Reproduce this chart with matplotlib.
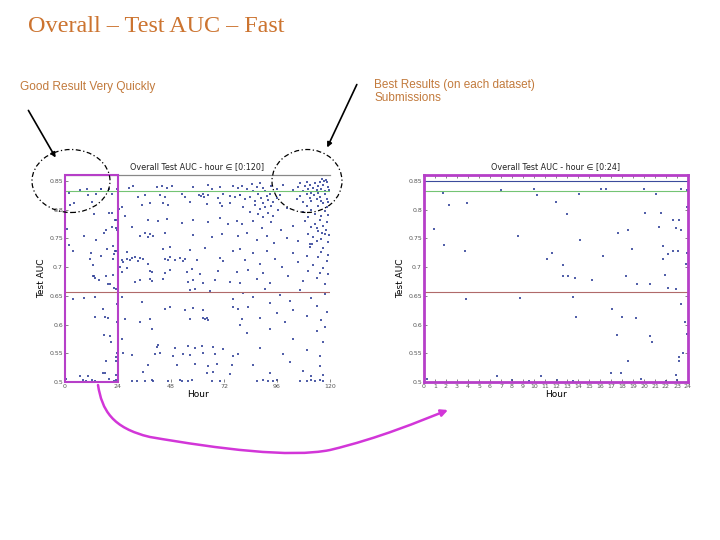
import matplotlib
matplotlib.use("Agg")
import matplotlib.pyplot as plt
from matplotlib.patches import Ellipse, Rectangle, FancyArrowPatch
from matplotlib.path import Path

# ---- data (hour, test AUC) ----
# first 24 hours (right panel; also the boxed part of the left panel)
pts_day1 = [
    (0.3, .505), (0.9, .766), (1.7, .829), (1.8, .739), (2.3, .809), (3.9, .811),
    (3.7, .728), (3.8, .645), (7.0, .834), (6.6, .511), (8.5, .755), (8.7, .646),
    (8.0, .504), (10.0, .836), (10.3, .825), (9.5, .502), (10.6, .510), (11.2, .714),
    (11.6, .724), (12.0, .814), (12.1, .504), (12.6, .704), (12.6, .685), (13.0, .792),
    (13.1, .684), (13.5, .648), (13.7, .682), (13.8, .614), (14.1, .827), (14.2, .747),
    (13.5, .502), (15.3, .678), (16.1, .836), (16.5, .837), (16.3, .720), (17.1, .627),
    (17.0, .516), (17.5, .582), (17.6, .759), (17.9, .516), (18.0, .614), (18.4, .685),
    (18.5, .764), (18.5, .537), (18.9, .731), (19.3, .612), (19.4, .671), (19.7, .506),
    (20.0, .836), (20.1, .794), (20.5, .671), (20.5, .581), (20.7, .569), (21.1, .827),
    (21.5, .794), (21.4, .770), (21.7, .737), (21.7, .715), (21.9, .687), (22.0, .502),
    (22.2, .723), (22.2, .664), (22.6, .783), (22.6, .728), (22.9, .662), (22.9, .768),
    (22.9, .512), (23.1, .729), (23.0, .504), (23.2, .783), (23.4, .836), (23.4, .764),
    (23.4, .636), (23.2, .544), (23.2, .537), (23.5, .550), (23.7, .605), (23.9, .725),
    (23.8, .706), (23.9, .804), (23.9, .583), (23.9, .834),
]

pts_24_40 = [
    (25.7, .805), (33.2, .822), (36.2, .825), (38.5, .811), (34.7, .808), (37.7, .782),
    (30.2, .770), (34.0, .755), (37.7, .753), (28.0, .727), (25.7, .712), (26.4, .709),
    (28.0, .715), (30.2, .716), (31.5, .717), (34.0, .716), (35.5, .714), (37.7, .706),
    (39.2, .692), (38.5, .680), (25.7, .692), (28.0, .698), (34.0, .677), (31.7, .674),
    (27.2, .610), (34.0, .604), (38.5, .610), (39.2, .593), (26.4, .550), (30.2, .547),
    (37.7, .529), (35.5, .518), (30.2, .501), (32.5, .502), (36.2, .501), (39.2, .503),
    (25.7, .648), (29.0, .838), (31.0, .842), (27.0, .790), (36.0, .760), (24.8, .700),
    (29.5, .712), (33.0, .711), (26.0, .575), (35.0, .640), (24.5, .802),
]

pts_40_80 = [
    (41.5, .840), (43.8, .842), (46.0, .838), (48.3, .841), (58.1, .839), (64.9, .843),
    (66.4, .837), (70.2, .840), (76.3, .842), (78.5, .838),
    (43.0, .825), (45.3, .823), (52.8, .827), (54.3, .822), (60.5, .826), (61.5, .824),
    (62.6, .828), (63.0, .822), (64.9, .825), (69.4, .821), (71.7, .827), (74.7, .824),
    (77.0, .822), (79.3, .826),
    (44.5, .811), (46.8, .808), (56.6, .813), (64.2, .810), (70.2, .812), (70.9, .807),
    (74.7, .811),
    (42.3, .780), (46.0, .784), (52.8, .777), (58.1, .782), (64.9, .779), (70.2, .785),
    (74.0, .776), (77.8, .781),
    (38.5, .757), (40.0, .754), (45.3, .759), (58.1, .756), (66.4, .752), (70.9, .758),
    (78.5, .755),
    (44.5, .732), (47.5, .735), (56.6, .730), (63.4, .733), (76.3, .729),
    (45.3, .715), (46.8, .712), (47.5, .718), (49.8, .713), (52.1, .716), (53.6, .711),
    (54.3, .714), (59.6, .712), (70.2, .716), (71.7, .710),
    (38.5, .693), (45.3, .690), (47.5, .695), (55.1, .692), (57.4, .697), (61.1, .689),
    (69.4, .694), (77.8, .691),
    (39.2, .676), (44.5, .679), (55.9, .674), (58.1, .677), (62.6, .672), (67.9, .678),
    (74.7, .675), (79.3, .673),
    (56.6, .660), (58.9, .662), (65.7, .659), (76.3, .645),
    (45.3, .628), (47.5, .631), (54.3, .626), (58.1, .629), (62.6, .625), (76.3, .630),
    (78.5, .627),
    (56.6, .610), (62.6, .612), (63.4, .609), (64.2, .611), (64.9, .608), (80.0, .610),
    (79.3, .600),
    (41.5, .561), (42.3, .564), (49.8, .560), (55.9, .562), (58.9, .559), (61.9, .563),
    (67.2, .561), (71.7, .558),
    (40.8, .548), (43.0, .550), (49.0, .546), (53.6, .549), (56.6, .547), (62.6, .551),
    (67.9, .548), (76.3, .545), (78.5, .549),
    (50.6, .530), (58.9, .532), (64.9, .528), (68.7, .531), (75.5, .529),
    (64.2, .515), (67.2, .517), (74.7, .514),
    (40.0, .502), (46.8, .501), (52.1, .503), (52.8, .501), (55.9, .502), (57.4, .504),
    (66.4, .502), (70.2, .501),
]

pts_80_120 = [
    (80.0, .842), (82.3, .836), (84.5, .845), (85.3, .833), (86.8, .840), (88.3, .846),
    (89.8, .838), (90.5, .833), (93.5, .841), (95.8, .836), (98.9, .843), (103.4, .834),
    (105.6, .839), (106.4, .846), (107.9, .832), (108.6, .841), (109.4, .848), (110.2, .836),
    (110.9, .843), (111.6, .830), (112.4, .838), (113.1, .846), (113.9, .834), (114.6, .842),
    (115.4, .849), (116.1, .837), (116.9, .844), (117.7, .832), (118.5, .848), (119.0, .840),
    (119.5, .835), (118.0, .852), (117.2, .850), (116.4, .853),
    (79.3, .826), (81.5, .818), (83.8, .823), (86.0, .815), (87.5, .828), (88.8, .820),
    (89.8, .812), (91.3, .824), (92.0, .817), (92.8, .828), (94.3, .813), (95.8, .821),
    (97.4, .826), (104.9, .818), (106.4, .824), (107.9, .813), (109.4, .828), (110.9, .820),
    (111.6, .815), (112.9, .826), (113.9, .818), (115.4, .823), (116.9, .812), (117.7, .827),
    (118.5, .819), (119.2, .814), (114.6, .829), (116.0, .816),
    (80.8, .805), (83.8, .797), (86.0, .808), (87.5, .792), (88.3, .801), (89.8, .788),
    (90.5, .804), (91.8, .795), (93.5, .806), (94.3, .790), (96.6, .799), (100.4, .803),
    (107.9, .796), (109.4, .806), (110.2, .788), (111.6, .800), (113.1, .793), (114.6, .807),
    (116.1, .789), (117.7, .798), (118.5, .804), (119.2, .791),
    (80.0, .775), (82.3, .760), (85.3, .781), (86.8, .748), (89.0, .768), (91.3, .755),
    (93.5, .778), (94.8, .742), (97.9, .764), (100.4, .751), (103.4, .772), (105.6, .746),
    (108.6, .780), (110.2, .758), (110.9, .741), (111.6, .770), (112.4, .752), (113.1, .776),
    (113.9, .745), (114.6, .763), (115.4, .782), (116.1, .749), (116.9, .771), (117.7, .757),
    (118.5, .779), (119.2, .744), (118.0, .765), (116.5, .760), (114.0, .768), (112.0, .740),
    (119.5, .756),
    (79.3, .732), (81.5, .712), (83.0, .695), (85.3, .724), (86.8, .680), (88.3, .705),
    (89.8, .690), (91.3, .728), (92.8, .672), (95.0, .715), (98.2, .700), (101.2, .685),
    (103.4, .725), (105.6, .709), (107.9, .676), (109.4, .720), (110.2, .694), (110.9, .735),
    (112.4, .703), (113.9, .682), (114.6, .717), (115.4, .690), (116.1, .726), (116.9, .699),
    (117.7, .671), (118.5, .711), (119.2, .688), (117.0, .734), (119.0, .722),
    (80.8, .655), (83.0, .630), (85.3, .648), (88.3, .612), (90.5, .662), (92.8, .638),
    (95.8, .620), (97.4, .652), (99.6, .605), (101.9, .641), (103.4, .626), (106.4, .660),
    (109.4, .615), (111.6, .647), (113.9, .632), (116.1, .608), (117.7, .654), (118.5, .622),
    (82.3, .585), (88.3, .560), (92.8, .592), (98.9, .548), (103.4, .575), (109.4, .556),
    (113.9, .588), (115.4, .545), (116.9, .570), (117.7, .595),
    (85.3, .530), (92.8, .515), (101.9, .535), (107.9, .520), (111.6, .510), (115.4, .528),
    (116.9, .512),
    (86.8, .502), (89.8, .503), (92.0, .501), (94.3, .502), (95.8, .504), (106.4, .502),
    (109.4, .501), (111.6, .503), (113.1, .502), (115.4, .504), (116.9, .501),
]

# reference lines
best_auc = 0.85
green_auc = 0.833
red_auc = 0.657

y_ticks = [0.5, 0.55, 0.6, 0.65, 0.7, 0.75, 0.8, 0.85]
y_tick_labels = ["0.5", "0.55", "0.6", "0.65", "0.7", "0.75", "0.8", "0.85"]
x_ticks_all = [0, 24, 48, 72, 96, 120]
x_ticks_day = list(range(25))

DOT = "#34449a"
MAGENTA = "#b63fc8"
ORANGE = "#cc7430"
GREEN = "#74c474"
RED = "#b06a6a"
W, H = 720, 540


def fx(px):
    return px / W


def fy(py):
    return 1 - py / H


def style_axes(ax, xticks, title):
    ax.set_ylim(0.5, 0.8606)
    ax.set_yticks(y_ticks)
    ax.set_yticklabels(y_tick_labels)
    ax.set_xticks(xticks)
    ax.tick_params(direction="in", length=2.5, width=0.5, labelsize=4.5,
                   colors="#555555", pad=1.5)
    ax.set_title(title, fontsize=5.8, pad=4, color="#222222")
    ax.set_xlabel("Hour", fontsize=6.5, labelpad=1)
    ax.set_ylabel("Test AUC", fontsize=6.5, labelpad=2)


fig = plt.figure(figsize=(7.2, 5.4), dpi=100)

all_pts = pts_day1 + pts_24_40 + pts_40_80 + pts_80_120
hrs = [p[0] for p in all_pts]
aucs = [p[1] for p in all_pts]

# left panel: all five days
ax1 = fig.add_axes([fx(65), fy(382), 265 / W, 207 / H])
ax1.scatter(hrs, aucs, s=0.9, c=DOT, marker="s", linewidths=0, alpha=0.85)
ax1.axhline(green_auc, color=GREEN, lw=0.8)
ax1.axhline(red_auc, color=RED, lw=0.8)
ax1.set_xlim(0, 120)
style_axes(ax1, x_ticks_all, "Overall Test AUC - hour \u2208 [0:120]")
for s in ["left", "right", "bottom"]:
    ax1.spines[s].set_visible(False)
ax1.spines["top"].set_color("#888888")
ax1.spines["top"].set_linewidth(0.9)
ax1.add_patch(Rectangle((0, 0.5), 24, 0.3606, fill=False, ec=MAGENTA, lw=1.5,
                        clip_on=False, zorder=5))

# right panel: first day only
d_h = [p[0] for p in pts_day1]
d_a = [p[1] for p in pts_day1]
ax2 = fig.add_axes([fx(424), fy(382), 264 / W, 207 / H])
ax2.scatter(d_h, d_a, s=0.9, c=DOT, marker="s", linewidths=0, alpha=0.85)
ax2.axhline(best_auc, color="#3b4c9c", lw=0.8)
ax2.axhline(green_auc, color=GREEN, lw=0.8)
ax2.axhline(red_auc, color=RED, lw=0.8)
ax2.set_xlim(0, 24)
style_axes(ax2, x_ticks_day, "Overall Test AUC - hour \u2208 [0:24]")
ax2.tick_params(top=True, right=True)
for s in ax2.spines.values():
    s.set_color(MAGENTA)
    s.set_linewidth(2)

# slide text
fig.text(fx(28), fy(27), "Overall \u2013 Test AUC \u2013 Fast", fontsize=17.4,
         family="Liberation Serif", color=ORANGE, va="center", ha="left")
fig.text(fx(20), fy(87), "Good Result Very Quickly", fontsize=8.6,
         family="Liberation Sans", color="#c27a3c", va="center", ha="left")
fig.text(fx(374), fy(91.5), "Best Results (on each dataset)\nSubmissions", fontsize=8.5,
         family="Liberation Sans", color="#c27a3c", va="center", ha="left",
         linespacing=1.2)

# dashed circles around the good regions
for cx, cy, w, h in [(71, 181, 78, 63), (307, 181, 70, 63)]:
    fig.add_artist(Ellipse((fx(cx), fy(cy)), w / W, h / H, transform=fig.transFigure,
                           fill=False, ec="black", lw=0.9, ls=(0, (4, 2, 1, 2))))

# pointer arrows
for (x0, y0), (x1, y1) in [((27, 108), (57, 160)), ((358, 82), (326, 150))]:
    fig.add_artist(FancyArrowPatch((fx(x0), fy(y0)), (fx(x1), fy(y1)),
                                   transform=fig.transFigure, arrowstyle="-|>",
                                   mutation_scale=7, color="black", lw=1.2))

# magenta zoom arrow from the boxed day to the right panel
curve = [(98, 385), (102, 410), (112, 428), (150, 437),
         (220, 449), (290, 458), (330, 450),
         (380, 438), (420, 421), (448, 410)]
codes = [Path.MOVETO] + [Path.CURVE4] * 9
verts = [(fx(x), fy(y)) for x, y in curve]
fig.add_artist(FancyArrowPatch(path=Path(verts, codes), transform=fig.transFigure,
                               arrowstyle="-|>", mutation_scale=10,
                               color="#d236d8", lw=1.8))

fig.savefig("out.png", dpi=100)
